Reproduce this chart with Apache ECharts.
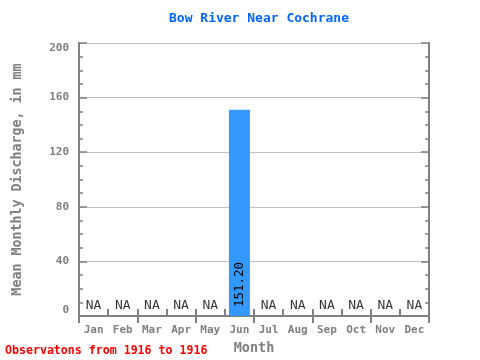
<!DOCTYPE html>
<html><head><meta charset="utf-8">
<script src="https://cdn.jsdelivr.net/npm/echarts@6/dist/echarts.min.js"></script>
<style>html,body{margin:0;padding:0;background:#fff}#c{width:480px;height:360px}</style>
</head><body><div id="c"></div>
<script>
const months = ['Jan','Feb','Mar','Apr','May','Jun','Jul','Aug','Sep','Oct','Nov','Dec'];
const values = [null,null,null,null,null,151.20,null,null,null,null,null,null];
const yTicks = [0,40,80,120,160,200];
const titleText = 'Bow River Near Cochrane';
const footText = 'Observatons from 1916 to 1916';
const F = 'DejaVu Sans Mono';
const gray = '#808080';

const chart = echarts.init(document.getElementById('c'));
const axisCommon = {
  axisLine:{show:true,lineStyle:{color:gray,width:2}},
};
chart.setOption({
  animation:false,
  title:{text:titleText,left:254,textAlign:'center',top:7,
    textStyle:{fontFamily:F,fontSize:13,fontWeight:'bold',color:'#0066ff'}},
  graphic:[{type:'text',left:5,top:345,style:{text:footText,fontFamily:F,fontSize:11.6,fontWeight:'bold',fill:'#ff0000'}}],
  grid:{left:79,right:51,top:43,bottom:39},
  xAxis:[{
    type:'category',data:months,position:'bottom',
    ...axisCommon,
    axisTick:{show:true,inside:true,length:7,lineStyle:{color:gray,width:2}},
    axisLabel:{fontFamily:F,fontSize:11,fontWeight:'bold',color:gray,margin:9},
    name:'Month',nameLocation:'middle',nameGap:20,
    nameTextStyle:{fontFamily:F,fontSize:13.5,fontWeight:'bold',color:gray},
    splitLine:{show:false}
  },{
    type:'category',data:months,position:'top',
    ...axisCommon,
    axisTick:{show:true,inside:true,length:7,lineStyle:{color:gray,width:2}},
    axisLabel:{show:false},splitLine:{show:false}
  }],
  yAxis:[{
    type:'value',min:yTicks[0],max:yTicks[yTicks.length-1],interval:40,position:'left',
    ...axisCommon,
    axisTick:{show:true,inside:true,length:8,lineStyle:{color:gray,width:1.5}},
    minorTick:{show:true,splitNumber:4,length:4,lineStyle:{color:gray,width:1.5}},
    axisLabel:{fontFamily:F,fontSize:11,fontWeight:'bold',color:gray,margin:10,
      verticalAlignMinLabel:'bottom',verticalAlignMaxLabel:'top'},
    splitLine:{show:true,lineStyle:{color:'#c0c0c0',width:1}},
    name:'Mean Monthly Discharge, in mm',nameLocation:'middle',nameGap:55,
    nameTextStyle:{fontFamily:F,fontSize:13.3,fontWeight:'bold',color:gray}
  },{
    type:'value',min:yTicks[0],max:yTicks[yTicks.length-1],interval:40,position:'right',
    ...axisCommon,
    axisTick:{show:true,inside:true,length:8,lineStyle:{color:gray,width:1.5}},
    minorTick:{show:true,splitNumber:4,length:4,lineStyle:{color:gray,width:1.5}},
    axisLabel:{show:false},splitLine:{show:false}
  }],
  series:[{
    type:'bar',barWidth:'72%',
    data:values.map(v=>v==null?null:v),
    itemStyle:{color:'#3399ff'},
    label:{show:true,position:'insideBottom',rotate:90,align:'left',verticalAlign:'middle',distance:9,
      fontFamily:F,fontSize:12.5,color:'#000',formatter:p=>p.value.toFixed(2)}
  },{
    type:'scatter',symbolSize:0,
    data:values.map((v,i)=>v==null?[i,0]:null).filter(d=>d),
    label:{show:true,position:'top',distance:4,formatter:'NA',fontFamily:F,fontSize:13,color:'#000'},
    silent:true
  }]
});
</script></body></html>
